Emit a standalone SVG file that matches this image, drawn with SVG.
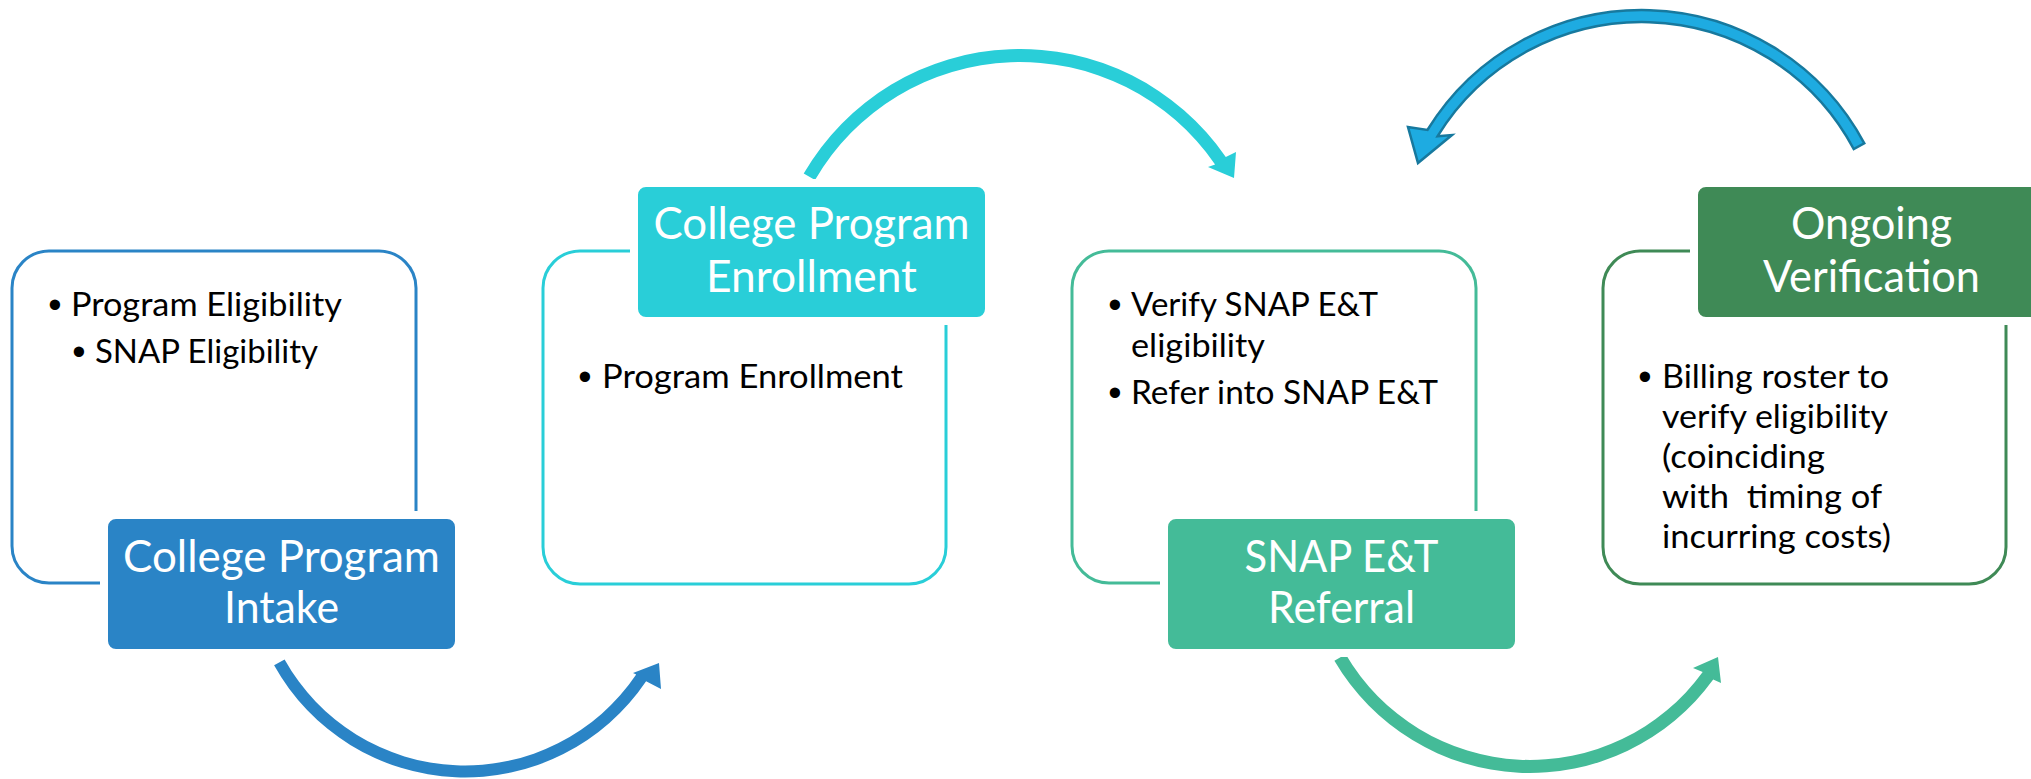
<svg xmlns="http://www.w3.org/2000/svg" width="2031" height="779" viewBox="0 0 2031 779">
<style>
.bg{fill:#ffffff}
.frame{fill:#ffffff;stroke-width:3}
.label{stroke:#ffffff;stroke-width:8}
.title{font-family:Lato,"Open Sans","Liberation Sans",sans-serif;font-size:44px;fill:#ffffff;text-anchor:middle}
.body{font-family:Lato,"Open Sans","Liberation Sans",sans-serif;font-size:33px;fill:#000000;white-space:pre}
.dot{font-family:"Liberation Sans",Arial,sans-serif;font-size:38px;fill:#000000;text-anchor:middle}
</style>
<rect class="bg" x="0" y="0" width="2031" height="779"/>

<g id="connectors">
<path id="arrow-intake-enrollment" fill="#2A84C6" d="M274.1,665.3 A218.5,218.5 0 0 0 646.1,681.2 L661,689 L659,663 L633,673 L636.2,674.5 A206.5,206.5 0 0 1 284.6,659.4 Z"/>
<path id="arrow-enrollment-referral" fill="#29CED8" d="M803.7,173.6 A250,250 0 0 1 1225.8,157.0 L1236,152 L1234,178 L1208,167 L1215.1,164.4 A237,237 0 0 0 815.0,180.1 Z"/>
<path id="arrow-referral-verification" fill="#44BB98" d="M1334.4,660.8 A226.5,226.5 0 0 0 1713.2,679.6 L1721,683 L1718,657 L1693,668 L1702.7,672.0 A213.5,213.5 0 0 1 1345.7,654.2 Z"/>
<path id="arrow-verification-referral" fill="#1EABE1" stroke="#17799E" stroke-width="2.5" stroke-linejoin="miter" d="M1864.3,143.3 A252,252 0 0 0 1427.4,130.0 L1408,127 L1418,163 L1452,135 L1437.6,136.2 A240,240 0 0 1 1853.7,149.0 Z"/>
</g>

<g id="node-intake">
<rect class="frame" x="12" y="251" width="404" height="332" rx="37" stroke="#2A84C6"/>
<rect class="label" x="104" y="515" width="355" height="138" rx="12" fill="#2A84C6"/>
<text class="title"><tspan x="281.5" y="572" textLength="317" lengthAdjust="spacingAndGlyphs">College Program</tspan><tspan x="281.5" y="623" textLength="115" lengthAdjust="spacingAndGlyphs">Intake</tspan></text>
<text class="dot" x="55" y="318">•</text>
<text class="body" x="71" y="316" textLength="271" lengthAdjust="spacingAndGlyphs">Program Eligibility</text>
<text class="dot" x="79" y="365">•</text>
<text class="body" x="95" y="363" textLength="223" lengthAdjust="spacingAndGlyphs">SNAP Eligibility</text>
</g>

<g id="node-enrollment">
<rect class="frame" x="543" y="251" width="403" height="333" rx="37" stroke="#29CED8"/>
<rect class="label" x="634" y="183" width="355" height="138" rx="12" fill="#29CED8"/>
<text class="title"><tspan x="811.5" y="239" textLength="316" lengthAdjust="spacingAndGlyphs">College Program</tspan><tspan x="811.5" y="292" textLength="211" lengthAdjust="spacingAndGlyphs">Enrollment</tspan></text>
<text class="dot" x="585" y="390">•</text>
<text class="body" x="602" y="388" textLength="301" lengthAdjust="spacingAndGlyphs">Program Enrollment</text>
</g>

<g id="node-referral">
<rect class="frame" x="1072" y="251" width="404" height="332" rx="37" stroke="#44BB98"/>
<rect class="label" x="1164" y="515" width="355" height="138" rx="12" fill="#44BB98"/>
<text class="title"><tspan x="1341.5" y="572" textLength="194" lengthAdjust="spacingAndGlyphs">SNAP E&amp;T</tspan><tspan x="1341.5" y="623" textLength="147" lengthAdjust="spacingAndGlyphs">Referral</tspan></text>
<text class="dot" x="1115" y="318">•</text>
<text class="body" x="1131" y="316" textLength="247" lengthAdjust="spacingAndGlyphs">Verify SNAP E&amp;T</text>
<text class="body" x="1131" y="357" textLength="134" lengthAdjust="spacingAndGlyphs">eligibility</text>
<text class="dot" x="1115" y="406">•</text>
<text class="body" x="1131" y="404" textLength="307" lengthAdjust="spacingAndGlyphs">Refer into SNAP E&amp;T</text>
</g>

<g id="node-verification">
<rect class="frame" x="1603" y="251" width="403" height="333" rx="37" stroke="#3F8A56"/>
<rect class="label" x="1694" y="183" width="355" height="138" rx="12" fill="#3F8A56"/>
<text class="title"><tspan x="1871.5" y="239" textLength="161" lengthAdjust="spacingAndGlyphs">Ongoing</tspan><tspan x="1871.5" y="292" textLength="217" lengthAdjust="spacingAndGlyphs">Verification</tspan></text>
<text class="dot" x="1645" y="390">•</text>
<text class="body" x="1662" y="388" textLength="227" lengthAdjust="spacingAndGlyphs">Billing roster to</text>
<text class="body" x="1662" y="428" textLength="226" lengthAdjust="spacingAndGlyphs">verify eligibility</text>
<text class="body" x="1662" y="468" textLength="163" lengthAdjust="spacingAndGlyphs">(coinciding</text>
<text class="body" x="1662" y="508" textLength="220" lengthAdjust="spacingAndGlyphs">with  timing of</text>
<text class="body" x="1662" y="548" textLength="229" lengthAdjust="spacingAndGlyphs">incurring costs)</text>
</g>
</svg>
